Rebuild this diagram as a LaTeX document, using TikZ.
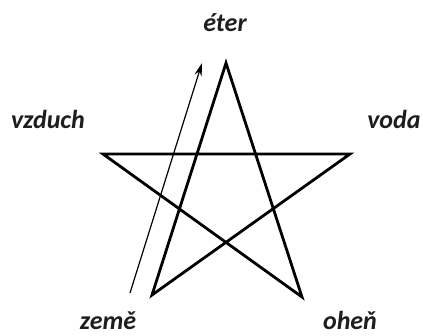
\documentclass[tikz,border=0pt]{standalone}
\usepackage{fontspec}
\setmainfont{Carlito}
\usetikzlibrary{arrows.meta}
\definecolor{elink}{RGB}{30,30,30}
\tikzset{
  el/.style={font=\fontsize{26}{28}\selectfont\bfseries\itshape, text=elink, inner sep=0pt, anchor=base},
  starline/.style={draw=black, line width=2.8pt, line join=miter},
  pathar/.style={-{Stealth[length=4.6mm,width=2.6mm]}, line width=1.2pt, draw=black},
}

\begin{document}
\begin{tikzpicture}[x=1pt,y=-1pt]
    \useasboundingbox (0,0) rectangle (423,336);

    % vertices of the pentagram
    \coordinate (top) at (226,63);
    \coordinate (ul) at (103,154);
    \coordinate (ur) at (350,154);
    \coordinate (ll) at (152,295);
    \coordinate (lr) at (302,297);

    \draw[starline] (ll) -- (top) -- (lr) -- (ul) -- (ur) -- cycle;

    % elements
    \node[el] (eter) at (225,32) {éter};
    \node[el] (vzduch) at (48,129) {vzduch};
    \node[el] (voda) at (394,129) {voda};
    \node[el] (zeme) at (108,330) {země};
    \node[el] (ohen) at (350,330) {oheň};

    \coordinate (from) at (130,293);
    \coordinate (to) at (202,63);
    \draw[pathar] (from) -- (to);
  \end{tikzpicture}
\end{document}
